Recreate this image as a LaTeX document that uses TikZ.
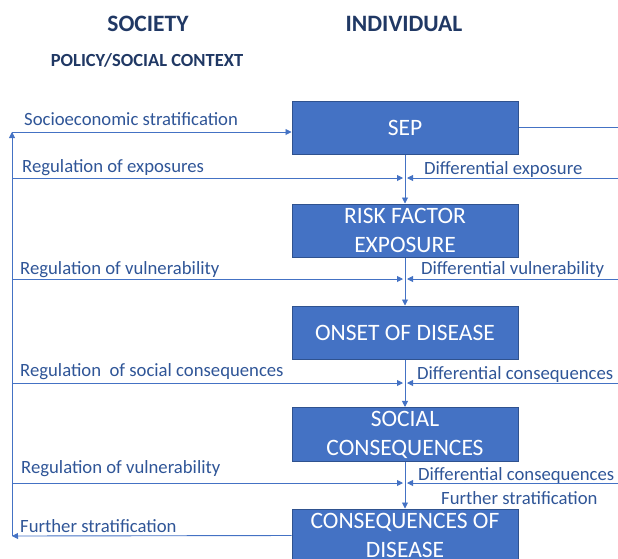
\documentclass[tikz,border=0pt]{standalone}
\usepackage{fontspec}
\setmainfont{Carlito}
\usepackage{tikz}
\usetikzlibrary{arrows.meta,positioning}
\definecolor{boxblue}{HTML}{4472C4}
\definecolor{boxedge}{HTML}{2F528F}
\definecolor{labelblue}{HTML}{2F5597}
\definecolor{headnavy}{HTML}{203864}
\tikzset{
	stage/.style={rectangle,draw=boxedge,fill=boxblue,line width=1pt,minimum width=226pt,minimum height=53pt,text=white,align=center,font=\fontsize{23.5}{29}\selectfont},
	link/.style={draw=boxblue,line width=0.9pt,-{Triangle[length=6pt,width=6pt]}},
	plain/.style={draw=boxblue,line width=0.9pt},
	lbl/.style={anchor=west,inner sep=0pt,text=labelblue,font=\fontsize{18.7}{22}\selectfont},
	head/.style={inner sep=0pt,text=headnavy,font=\fontsize{23.5}{26}\selectfont\bfseries}
}

\begin{document}
\begin{tikzpicture}[x=1pt,y=-1pt]
		\useasboundingbox (0,0) rectangle (618,558);
		\clip (0,0) rectangle (618,558);
		
		% headings
		\node[head] (society) at (148,24) {SOCIETY};
		\node[head] (individual) at (404,24) {INDIVIDUAL};
		\node[head,font=\fontsize{18.5}{22}\selectfont\bfseries] (context) at (147,60) {POLICY/SOCIAL CONTEXT};
		
		% individual pathway
		\node[stage] (sep) at (405,127.5) {SEP};
		\node[stage] (risk) at (405,230.5) {RISK FACTOR\\EXPOSURE};
		\node[stage] (onset) at (405,332.5) {ONSET OF DISEASE};
		\node[stage] (social) at (405,434.5) {SOCIAL\\CONSEQUENCES};
		\node[stage] (cod) at (405,535.5) {CONSEQUENCES OF\\DISEASE};
		
		\draw[link] (sep) -- (risk);
		\draw[link] (risk) -- (onset);
		\draw[link] (onset) -- (social);
		\draw[link] (social) -- (cod);
		
		% society loop on the left
		\coordinate (Top Left) at (12,132);
		\coordinate (Bottom Left) at (12,536);
		\coordinate (Right End) at (618,127.5);
		\draw[link] (cod.west) -- (Bottom Left);
		\draw[link] (Bottom Left) -- (Top Left);
		\draw[link] (Top Left) -- (sep.west |- Top Left);
		\draw[plain] (sep.east) -- (Right End);
		
		% regulation (left) and differential (right) arrows
		\foreach \y/\n in {178/a,279/b,383/c,483/d}{
			\coordinate (L\n) at (12,\y);
			\coordinate (R\n) at (618,\y);
			\coordinate (LT\n) at (403,\y);
			\coordinate (RT\n) at (407,\y);
			\draw[link] (L\n) -- (LT\n);
			\draw[link] (R\n) -- (RT\n);
		}
		
		\node[lbl] (t1) at (24,119) {Socioeconomic stratification};
		\node[lbl] (t2) at (22,168) {Regulation of exposures};
		\node[lbl] (t3) at (424,170) {Differential exposure};
		\node[lbl] (t4) at (20,270) {Regulation of vulnerability};
		\node[lbl] (t5) at (421,270) {Differential vulnerability};
		\node[lbl] (t6) at (20,372) {Regulation\ \ of social consequences};
		\node[lbl] (t7) at (417,375) {Differential consequences};
		\node[lbl] (t8) at (21,469) {Regulation of vulnerability};
		\node[lbl] (t9) at (418,476) {Differential consequences};
		\node[lbl] (t10) at (441,498) {Further stratification};
		\node[lbl] (t11) at (20,526) {Further stratification};
		
\end{tikzpicture}
\end{document}
